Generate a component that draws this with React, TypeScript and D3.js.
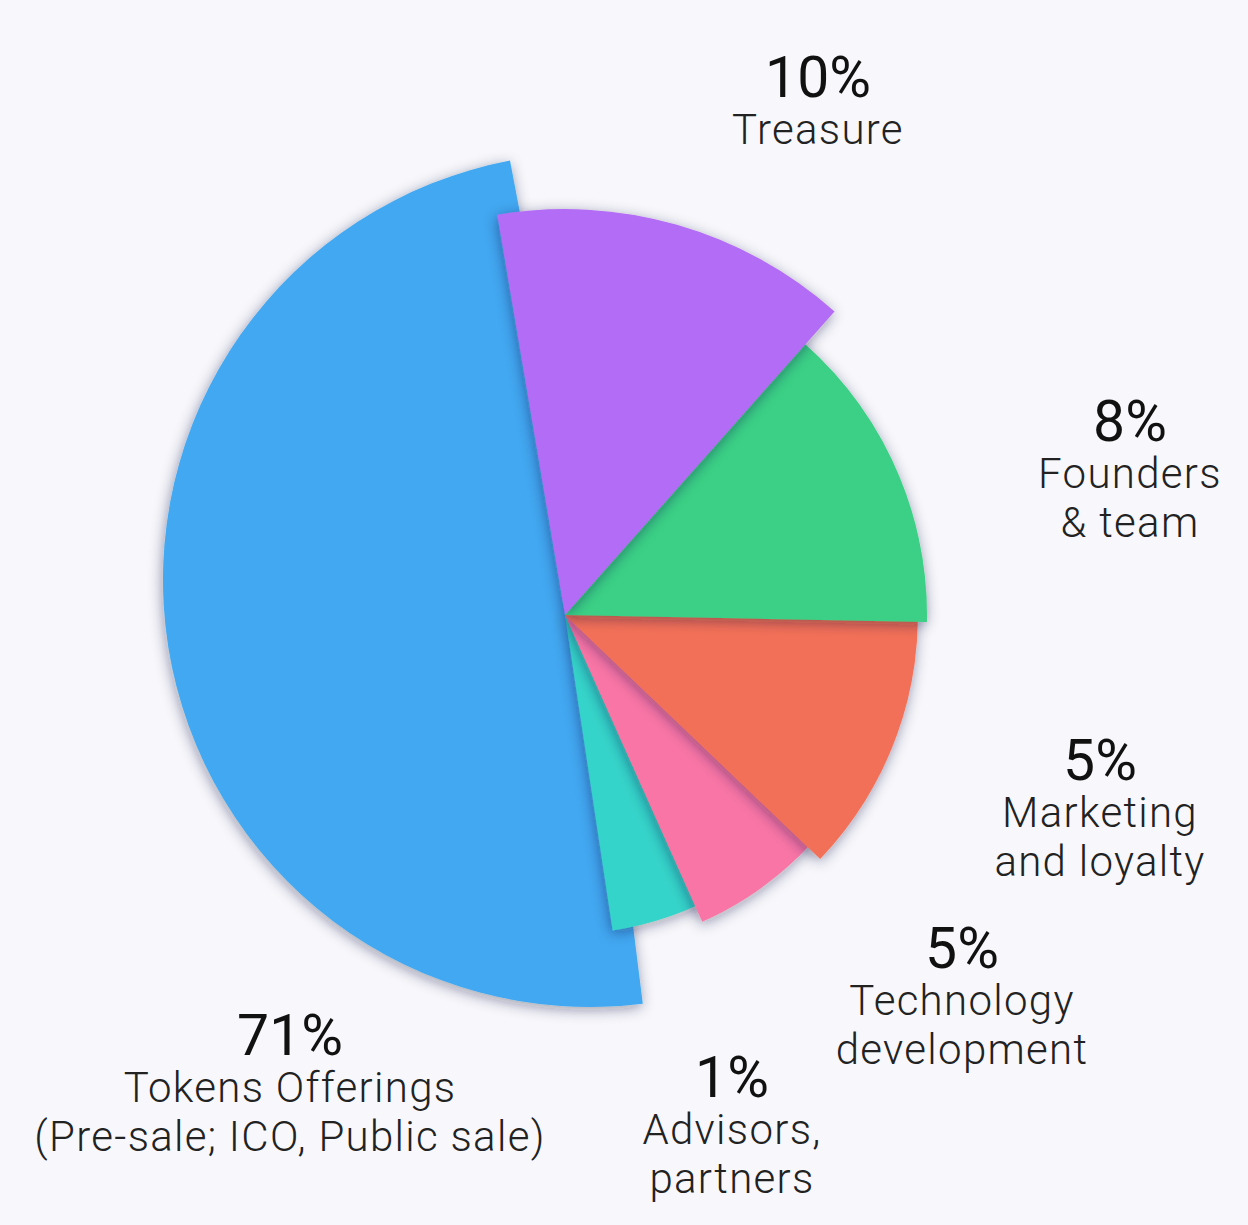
import { useMemo } from "react";
import * as d3 from "d3";

// slices are listed bottom layer first (blue under everything, purple on top)
const categories = [
  "Tokens Offerings",
  "Advisors, partners",
  "Technology development",
  "Marketing and loyalty",
  "Founders & team",
  "Treasure",
];
const percents = [71, 1, 5, 5, 8, 10];
const labelLines = [
  ["Tokens Offerings", "(Pre-sale; ICO, Public sale)"],
  ["Advisors,", "partners"],
  ["Technology", "development"],
  ["Marketing", "and loyalty"],
  ["Founders", "& team"],
  ["Treasure"],
];
// angles (degrees, clockwise from 12 o'clock)
const startDeg = [172.9, 150, 128, 86, 38, -9.6];
const endDeg = [349.2, 171.4, 155.9, 133.7, 91.1, 41.6];
const outerRadius = [427, 319, 336, 353, 362, 406];

const COLORS = ["#42A8F2", "#34D4CA", "#F874A6", "#F37058", "#3AD086", "#B36CF5"];

const WIDTH = 1248;
const HEIGHT = 1225;
const CENTER = { x: 565, y: 615 };
// the big slice sits a little off the common apex in the picture
const SLICE_SHIFT = [
  { x: 25, y: -35 },
  { x: 0, y: 0 },
  { x: 0, y: 0 },
  { x: 0, y: 0 },
  { x: 0, y: 0 },
  { x: 0, y: 0 },
];
const LABEL_POS = [
  { x: 290, y: 1055 },
  { x: 732, y: 1097 },
  { x: 962, y: 968 },
  { x: 1100, y: 780 },
  { x: 1130, y: 441 },
  { x: 818, y: 97 },
];

export default function App() {
  const angle = useMemo(
    () => d3.scaleLinear().domain([0, 360]).range([0, 2 * Math.PI]),
    [],
  );

  const slices = useMemo(() => {
    return categories.map((name, i) => {
      const path = d3.arc()({
        innerRadius: 0,
        outerRadius: outerRadius[i],
        startAngle: angle(startDeg[i]),
        endAngle: angle(endDeg[i]),
      } as any);
      return {
        name,
        path: path ?? "",
        color: COLORS[i],
        x: CENTER.x + SLICE_SHIFT[i].x,
        y: CENTER.y + SLICE_SHIFT[i].y,
      };
    });
  }, [angle]);

  return (
    <svg
      width={WIDTH}
      height={HEIGHT}
      viewBox={`0 0 ${WIDTH} ${HEIGHT}`}
      style={{ position: "absolute", left: 0, top: 0, display: "block" }}
    >
      <defs>
        <filter id="shade" x="-20%" y="-20%" width="140%" height="140%">
          <feDropShadow dx="-1" dy="3" stdDeviation="7" floodColor="#1a1a3a" floodOpacity="0.42" />
        </filter>
      </defs>
      <rect width={WIDTH} height={HEIGHT} fill="#F8F8FC" />

      {/* Slices */}
      {slices.map((s) => (
        <path
          key={s.name}
          d={s.path}
          transform={`translate(${s.x},${s.y})`}
          fill={s.color}
          filter="url(#shade)"
        />
      ))}

      {/* Labels */}
      {categories.map((name, i) => (
        <g key={`label-${name}`} transform={`translate(${LABEL_POS[i].x},${LABEL_POS[i].y})`}>
          <text
            textAnchor="middle"
            style={{ fontFamily: "Roboto, sans-serif", fontSize: "57px", fontWeight: 400 }}
            fill="#111"
          >
            {`${percents[i]}%`}
          </text>
          {labelLines[i].map((line, j) => (
            <text
              key={j}
              textAnchor="middle"
              y={47 + j * 49}
              style={{
                fontFamily: "Roboto, sans-serif",
                fontSize: "42px",
                fontWeight: 300,
                letterSpacing: "1.3px",
              }}
              fill="#222"
            >
              {line}
            </text>
          ))}
        </g>
      ))}
    </svg>
  );
}
